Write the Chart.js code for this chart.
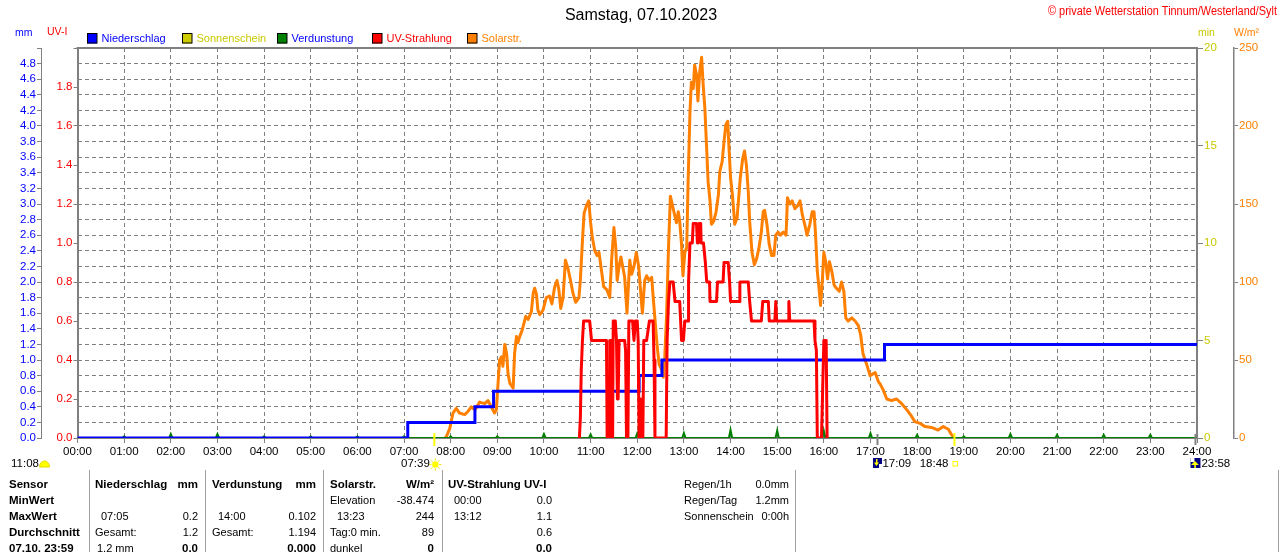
<!DOCTYPE html>
<html><head><meta charset="utf-8">
<script src="https://cdn.jsdelivr.net/npm/chart.js@4.4.0/dist/chart.umd.min.js"></script>
<style>html,body{margin:0;padding:0;background:#fff;overflow:hidden}canvas{display:block}</style>
</head><body>
<canvas id="c" width="1280" height="552" style="width:1280px;height:552px"></canvas>
<script>
const FONT = '"Liberation Sans", Arial, Helvetica, sans-serif';

// Niederschlag (kumuliert, mm) – Zeitpunkte in Stunden
const rainTimes = [0, 7.08, 8.52, 8.92, 12.04, 12.53, 17.30, 24];
const rainMM    = [0, 0.2, 0.4, 0.6, 0.8, 1.0, 1.2, 1.2];

// Verdunstung (mm pro Stunde)
const evapHours = [1,2,3,4,5,6,7,8,9,10,11,12,13,14,15,16,17,18,19,20,21,22,23];
const evapMM    = [0.02,0.05,0.05,0.02,0.02,0.02,0.02,0.02,0.02,0.05,0.045,0.06,0.065,0.102,0.095,0.09,0.06,0.04,0.02,0.05,0.04,0.04,0.04];

// UV-Strahlung (UV-I)
const uvTimes = [10.76, 10.78, 10.80, 10.825, 10.85, 10.98, 11.00, 11.02, 11.34,
  11.355, 11.40, 11.41, 11.46, 11.467, 11.477, 11.485, 11.53, 11.555, 11.575,
  11.59, 11.61, 11.73, 11.75, 11.77, 11.80, 11.82, 11.90, 11.93, 11.96,
  12.00, 12.02, 12.04, 12.06, 12.08, 12.12, 12.14, 12.20, 12.26, 12.34,
  12.36, 12.38, 12.62, 12.64, 12.67, 12.70, 12.77, 12.79, 12.81, 12.91,
  12.93, 12.95, 12.99, 13.02, 13.09, 13.10, 13.13, 13.18, 13.20, 13.27,
  13.29, 13.31, 13.33, 13.36, 13.37, 13.42, 13.46, 13.49, 13.55, 13.56,
  13.70, 13.72, 13.84, 13.86, 13.95, 13.98, 14.00, 14.19, 14.20, 14.38,
  14.41, 14.45, 14.66, 14.69, 14.81, 14.83, 14.95, 14.97, 14.99, 15.24,
  15.25, 15.27, 15.79, 15.81, 15.84, 15.86, 15.95, 15.97, 16.00, 16.05,
  16.07];
const uvIndex = [0, 0.1, 0.35, 0.5, 0.6, 0.6, 0.55, 0.5, 0.5,
  0, 0, 0.5, 0.5, 0, 0, 0.6, 0.6, 0.5, 0.2,
  0.2, 0.5, 0.5, 0.45, 0, 0, 0.6, 0.6, 0.5, 0.6,
  0.6, 0.5, 0, 0.2, 0, 0, 0.5, 0.5, 0.6, 0.6,
  0.4, 0, 0, 0.5, 0.7, 0.8, 0.8, 0.75, 0.7, 0.7,
  0.6, 0.5, 0.5, 0.6, 0.6, 0.8, 1.0, 1.0, 1.1, 1.1,
  1.0, 1.0, 1.1, 1.1, 1.0, 1.0, 0.9, 0.8, 0.8, 0.7,
  0.7, 0.8, 0.8, 0.9, 0.9, 0.8, 0.7, 0.7, 0.8, 0.8,
  0.7, 0.6, 0.6, 0.7, 0.7, 0.6, 0.6, 0.7, 0.6, 0.6,
  0.7, 0.6, 0.6, 0.5, 0.45, 0, 0, 0.2, 0.5, 0.5,
  0];

// Solarstrahlung (W/m²)
const solarTimes = [7.88, 7.91, 7.98, 8.05, 8.12, 8.19, 8.30, 8.37, 8.44, 8.52,
  8.62, 8.73, 8.80, 8.87, 8.94, 8.98, 9.02, 9.05, 9.09, 9.12,
  9.16, 9.20, 9.23, 9.27, 9.34, 9.37, 9.41, 9.44, 9.48, 9.52,
  9.55, 9.61, 9.66, 9.73, 9.77, 9.80, 9.84, 9.87, 9.91, 9.98,
  10.05, 10.12, 10.17, 10.23, 10.28, 10.32, 10.36, 10.41, 10.46, 10.52,
  10.57, 10.62, 10.68, 10.75, 10.78, 10.83, 10.86, 10.91, 10.96, 11.00,
  11.04, 11.09, 11.14, 11.18, 11.23, 11.28, 11.35, 11.41, 11.45, 11.50,
  11.54, 11.57, 11.61, 11.65, 11.70, 11.73, 11.78, 11.84, 11.88, 11.93,
  11.98, 12.03, 12.07, 12.11, 12.16, 12.20, 12.25, 12.31, 12.34, 12.38,
  12.43, 12.47, 12.52, 12.56, 12.59, 12.63, 12.67, 12.71, 12.77, 12.84,
  12.88, 12.91, 12.95, 12.98, 13.02, 13.06, 13.09, 13.13, 13.16, 13.20,
  13.23, 13.27, 13.30, 13.34, 13.38, 13.41, 13.45, 13.49, 13.52, 13.56,
  13.59, 13.64, 13.69, 13.74, 13.77, 13.82, 13.86, 13.90, 13.94, 13.96,
  14.00, 14.04, 14.09, 14.14, 14.18, 14.21, 14.26, 14.30, 14.34, 14.38,
  14.41, 14.46, 14.51, 14.56, 14.61, 14.66, 14.70, 14.73, 14.78, 14.83,
  14.88, 14.93, 14.97, 15.02, 15.07, 15.13, 15.19, 15.22, 15.27, 15.32,
  15.38, 15.44, 15.49, 15.54, 15.59, 15.64, 15.70, 15.75, 15.79, 15.82,
  15.86, 15.89, 15.93, 15.97, 16.00, 16.04, 16.08, 16.12, 16.17, 16.22,
  16.27, 16.33, 16.38, 16.43, 16.47, 16.52, 16.60, 16.67, 16.74, 16.79,
  16.84, 16.92, 16.99, 17.10, 17.17, 17.20, 17.27, 17.35, 17.45, 17.56,
  17.67, 17.78, 17.88, 17.95, 18.06, 18.17, 18.31, 18.45, 18.56, 18.67,
  18.74, 18.77, 18.80];
const solarWm2 = [0, 1, 6, 16, 19, 16, 15, 17, 20, 18,
  23, 22, 24, 20, 16, 18, 37, 50, 52, 46,
  60, 54, 41, 35, 32, 54, 65, 61, 65, 68,
  71, 78, 76, 81, 93, 96, 92, 82, 79, 82,
  90, 91, 86, 97, 101, 95, 83, 90, 114, 108,
  101, 93, 87, 90, 101, 129, 144, 149, 152, 138,
  128, 120, 117, 119, 108, 97, 95, 90, 114, 135,
  122, 101, 110, 116, 108, 103, 80, 114, 105, 110,
  119, 110, 95, 80, 101, 104, 101, 103, 91, 76,
  58, 47, 44, 39, 52, 80, 122, 155, 147, 138,
  145, 139, 124, 104, 119, 122, 164, 209, 228, 224,
  239, 233, 216, 235, 244, 228, 211, 184, 164, 152,
  137, 139, 145, 156, 171, 177, 190, 201, 203, 190,
  167, 156, 137, 141, 156, 167, 179, 184, 175, 158,
  139, 119, 111, 115, 122, 132, 145, 146, 137, 124,
  117, 117, 130, 132, 130, 132, 130, 154, 150, 152,
  147, 149, 152, 143, 137, 130, 137, 145, 145, 132,
  107, 98, 85, 102, 119, 113, 102, 113, 107, 98,
  96, 94, 100, 94, 77, 75, 77, 75, 72, 66,
  54, 47, 40, 42, 36, 35, 31, 25, 24, 25,
  22, 18, 14, 10.5, 9.4, 7.3, 6.8, 5.1, 7.3, 5.6,
  2, 0.8, 0];

// Sonnenauf-/untergang und Mond (Stunden)
const sunTimes = [7.65, 18.8];      // 07:39, 18:48
const moonTimes = [17.15, 23.967];  // 17:09, 23:58

const zip = (xs, ys) => xs.map((x, i) => ({x, y: ys[i]}));
const evapPoints = [{x: 0, y: 0}];
evapHours.forEach((h, i) => {
  evapPoints.push({x: h - 0.035, y: 0}, {x: h, y: evapMM[i]}, {x: h + 0.035, y: 0});
});
evapPoints.push({x: 24, y: 0});

const GRID = '#808080';

function txt(ctx, s, x, y, opt = {}) {
  ctx.font = (opt.bold ? 'bold ' : '') + (opt.size || 11) + 'px ' + FONT;
  ctx.fillStyle = opt.color || '#000';
  ctx.textAlign = opt.align || 'left';
  ctx.textBaseline = 'middle';
  ctx.fillText(s, x, y);
}

const deco = {
  id: 'deco',
  afterDraw(chart) {
    const ctx = chart.ctx, a = chart.chartArea, xs = chart.scales.x;
    ctx.save();
    // top frame
    ctx.strokeStyle = GRID; ctx.lineWidth = 2;
    ctx.beginPath(); ctx.moveTo(a.left - 1, a.top); ctx.lineTo(a.right + 1, a.top); ctx.stroke();

    // title
    txt(ctx, 'Samstag, 07.10.2023', 641, 15.5, {size: 16, align: 'center'});
    // copyright (narrow)
    ctx.save();
    ctx.font = '12px ' + FONT;
    const cs = '\u00A9 private Wetterstation Tinnum/Westerland/Sylt';
    const w = ctx.measureText(cs).width;
    const k = 229 / w;
    ctx.translate(1277, 12); ctx.scale(k, 1);
    txt(ctx, cs, 0, 0, {size: 12, align: 'right', color: '#ff0000'});
    ctx.restore();

    // axis unit labels
    txt(ctx, 'mm', 15, 33.5, {size: 10.5, color: '#0000ff'});
    txt(ctx, 'UV-I', 47, 32, {size: 10.5, color: '#ff0000'});
    txt(ctx, 'min', 1198, 33.5, {size: 10.5, color: '#c8c800'});
    txt(ctx, 'W/m\u00B2', 1234, 33, {size: 10.5, color: '#ff8000'});

    // legend
    const leg = [
      [87, 'Niederschlag', '#0000ff', '#0000ff'],
      [182, 'Sonnenschein', '#cccc00', '#c8c800'],
      [277, 'Verdunstung', '#008000', '#0000ff'],
      [372, 'UV-Strahlung', '#ff0000', '#ff0000'],
      [467, 'Solarstr.', '#ff8000', '#ff8000']
    ];
    leg.forEach(([x, s, fc, tc]) => {
      ctx.fillStyle = fc; ctx.fillRect(x, 33.5, 10, 10);
      ctx.strokeStyle = '#000'; ctx.lineWidth = 1; ctx.strokeRect(x + 0.5, 33.5, 9.5, 9.5);
      txt(ctx, s, x + 14.5, 38.5, {size: 11, color: tc});
    });

    // sunrise / sunset ticks
    ctx.strokeStyle = '#ffff00'; ctx.lineWidth = 2;
    sunTimes.forEach(t => {
      const x = xs.getPixelForValue(t);
      ctx.beginPath(); ctx.moveTo(x, a.bottom - 5); ctx.lineTo(x, a.bottom + 8); ctx.stroke();
    });
    ctx.strokeStyle = '#808080';
    moonTimes.forEach(t => {
      const x = xs.getPixelForValue(t);
      ctx.beginPath(); ctx.moveTo(x, a.bottom - 4); ctx.lineTo(x, a.bottom + 7); ctx.stroke();
    });

    // event labels below axis
    const yE = 464;
    const sr = xs.getPixelForValue(sunTimes[0]);
    const ss = xs.getPixelForValue(sunTimes[1]);
    const ms = xs.getPixelForValue(moonTimes[0]);
    const mr = xs.getPixelForValue(moonTimes[1]);
    txt(ctx, '11:08', 11, yE, {size: 11.5});
    ctx.fillStyle = '#ffff00';
    ctx.beginPath(); ctx.ellipse(44.5, 467, 5, 6, 0, Math.PI, 0); ctx.closePath(); ctx.fill();
    ctx.strokeStyle = '#e8d800'; ctx.lineWidth = 1; ctx.stroke();

    txt(ctx, '07:39', sr - 4.5, yE, {size: 11.5, align: 'right'});
    ctx.fillStyle = '#ffff00';
    ctx.beginPath(); ctx.arc(sr + 1, yE + 0.5, 3.2, 0, Math.PI * 2); ctx.fill();
    ctx.strokeStyle = '#f0e000'; ctx.lineWidth = 1;
    for (let i = 0; i < 8; i++) {
      const an = i * Math.PI / 4;
      ctx.beginPath();
      ctx.moveTo(sr + 1 + Math.cos(an) * 4, yE + 0.5 + Math.sin(an) * 4);
      ctx.lineTo(sr + 1 + Math.cos(an) * 6, yE + 0.5 + Math.sin(an) * 6);
      ctx.stroke();
    }

    // moonset icon
    ctx.fillStyle = '#000080'; ctx.fillRect(ms - 4.5, 458, 9, 10);
    ctx.fillStyle = '#ffffff'; ctx.fillRect(ms + 1.5, 464, 3, 4);
    ctx.fillStyle = '#ffff00';
    ctx.fillRect(ms - 1.5, 459, 1.5, 4);
    ctx.beginPath(); ctx.moveTo(ms - 3.5, 462.5); ctx.lineTo(ms + 1.5, 462.5); ctx.lineTo(ms - 1, 466); ctx.closePath(); ctx.fill();
    txt(ctx, '17:09', ms + 5, yE, {size: 11.5});

    txt(ctx, '18:48', ss - 6, yE, {size: 11.5, align: 'right'});
    ctx.strokeStyle = '#ffff00'; ctx.lineWidth = 1;
    ctx.strokeRect(ss - 1.5, 461.5, 4.5, 4.5);

    // moonrise icon
    ctx.fillStyle = '#000080'; ctx.fillRect(mr - 5, 458, 10, 10);
    ctx.fillStyle = '#ffffff'; ctx.fillRect(mr - 5, 458, 4, 4);
    ctx.fillStyle = '#ffff00';
    ctx.beginPath(); ctx.moveTo(mr - 0.5, 461); ctx.lineTo(mr + 3.5, 465); ctx.lineTo(mr - 4.5, 465); ctx.closePath(); ctx.fill();
    ctx.fillRect(mr - 1.2, 464, 1.6, 4);
    txt(ctx, '23:58', mr + 6, yE, {size: 11.5});

    // table separators
    ctx.strokeStyle = '#a0a0a0'; ctx.lineWidth = 1;
    [89.5, 205.5, 323.5, 442.5, 795.5, 1278.5].forEach(x => {
      ctx.beginPath(); ctx.moveTo(x, 470); ctx.lineTo(x, 552); ctx.stroke();
    });

    const R = [484.5, 500.5, 516.5, 533, 548.5];
    const B = {bold: true, size: 11.5};
    const N = {size: 11};
    const NR = {size: 11, align: 'right'};
    const BR = {bold: true, size: 11.5, align: 'right'};
    ['Sensor', 'MinWert', 'MaxWert', 'Durchschnitt', '07.10. 23:59'].forEach((s, i) => txt(ctx, s, 9, R[i], B));
    // Niederschlag
    txt(ctx, 'Niederschlag', 95, R[0], B); txt(ctx, 'mm', 198, R[0], BR);
    txt(ctx, '07:05', 101, R[2], N); txt(ctx, '0.2', 198, R[2], NR);
    txt(ctx, 'Gesamt:', 95, R[3], N); txt(ctx, '1.2', 198, R[3], NR);
    txt(ctx, '1.2 mm', 97, R[4], N); txt(ctx, '0.0', 198, R[4], BR);
    // Verdunstung
    txt(ctx, 'Verdunstung', 212, R[0], B); txt(ctx, 'mm', 316, R[0], BR);
    txt(ctx, '14:00', 218, R[2], N); txt(ctx, '0.102', 316, R[2], NR);
    txt(ctx, 'Gesamt:', 212, R[3], N); txt(ctx, '1.194', 316, R[3], NR);
    txt(ctx, '0.000', 316, R[4], BR);
    // Solar
    txt(ctx, 'Solarstr.', 330, R[0], B); txt(ctx, 'W/m\u00B2', 434, R[0], BR);
    txt(ctx, 'Elevation', 330, R[1], N); txt(ctx, '-38.474', 434, R[1], NR);
    txt(ctx, '13:23', 337, R[2], N); txt(ctx, '244', 434, R[2], NR);
    txt(ctx, 'Tag:0 min.', 330, R[3], N); txt(ctx, '89', 434, R[3], NR);
    txt(ctx, 'dunkel', 330, R[4], N); txt(ctx, '0', 434, R[4], BR);
    // UV
    txt(ctx, 'UV-Strahlung UV-I', 448, R[0], B);
    txt(ctx, '00:00', 454, R[1], N); txt(ctx, '0.0', 552, R[1], NR);
    txt(ctx, '13:12', 454, R[2], N); txt(ctx, '1.1', 552, R[2], NR);
    txt(ctx, '0.6', 552, R[3], NR);
    txt(ctx, '0.0', 552, R[4], BR);
    // right block
    txt(ctx, 'Regen/1h', 684, R[0], N); txt(ctx, '0.0mm', 789, R[0], NR);
    txt(ctx, 'Regen/Tag', 684, R[1], N); txt(ctx, '1.2mm', 789, R[1], NR);
    txt(ctx, 'Sonnenschein', 684, R[2], N); txt(ctx, '0:00h', 789, R[2], NR);
    ctx.restore();
  }
};

const tickFont = {family: FONT, size: 11.5};

new Chart(document.getElementById('c'), {
  type: 'line',
  data: {
    datasets: [
      {label: 'UV-Strahlung', data: zip(uvTimes, uvIndex), yAxisID: 'yUV', borderColor: '#ff0000', borderWidth: 3, pointRadius: 0, tension: 0, borderJoinStyle: 'round'},
      {label: 'Niederschlag', data: zip(rainTimes, rainMM), yAxisID: 'yMM', borderColor: '#0000ff', borderWidth: 3, pointRadius: 0, stepped: 'before'},
      {label: 'Verdunstung', data: evapPoints, yAxisID: 'yMM', borderColor: '#008000', borderWidth: 2, pointRadius: 0, tension: 0},
      {label: 'Solarstr.', data: zip(solarTimes, solarWm2), yAxisID: 'yW', borderColor: '#ff8000', borderWidth: 3, pointRadius: 0, tension: 0, borderJoinStyle: 'round'}
    ]
  },
  options: {
    responsive: false,
    animation: false,
    devicePixelRatio: 1,
    layout: {padding: {top: 48, left: 0, right: 0, bottom: 0}},
    plugins: {legend: {display: false}, tooltip: {enabled: false}, title: {display: false}},
    events: [],
    scales: {
      x: {
        type: 'linear', position: 'bottom', min: 0, max: 24,
        ticks: {stepSize: 1, autoSkip: false, maxRotation: 0, minRotation: 0, color: '#000', font: tickFont, padding: 2,
          callback: v => (v < 10 ? '0' : '') + v + ':00'},
        grid: {color: GRID, lineWidth: 1, tickLength: 5, tickColor: GRID},
        border: {color: GRID, width: 2, dash: [4, 3]},
        afterFit: s => { s.height = 114; }
      },
      yUV: {
        position: 'left', weight: 1, min: 0, max: 2,
        ticks: {stepSize: 0.2, autoSkip: false, color: '#ff0000', font: tickFont, padding: 1,
          callback: v => v > 1.9 ? '' : Number(v).toFixed(1)},
        grid: {drawOnChartArea: false, tickLength: 4, color: GRID, tickColor: GRID},
        border: {color: GRID, width: 2},
        afterFit: s => { s.width = 36.5; }
      },
      yMM: {
        position: 'left', weight: 2, min: 0, max: 5,
        ticks: {stepSize: 0.2, autoSkip: false, color: '#0000ff', font: tickFont, padding: 1,
          callback: v => v > 4.9 ? '' : Number(v).toFixed(1)},
        grid: {drawOnChartArea: true, tickLength: 4, color: GRID, tickColor: GRID, lineWidth: 1},
        border: {color: GRID, width: 1, dash: [4, 3]},
        afterFit: s => { s.width = 41; }
      },
      yMin: {
        position: 'right', weight: 0, min: 0, max: 20,
        ticks: {stepSize: 5, autoSkip: false, color: '#c8c800', font: tickFont, padding: 1},
        grid: {drawOnChartArea: false, tickLength: 6, color: GRID, tickColor: GRID},
        border: {color: GRID, width: 2},
        afterFit: s => { s.width = 37; }
      },
      yW: {
        position: 'right', weight: 1, min: 0, max: 250,
        ticks: {stepSize: 50, autoSkip: false, color: '#ff8000', font: tickFont, padding: 1},
        grid: {drawOnChartArea: false, tickLength: 4, color: GRID, tickColor: GRID},
        border: {color: GRID, width: 1.5},
        afterFit: s => { s.width = 46; }
      }
    }
  },
  plugins: [deco]
});
</script>
</body></html>
